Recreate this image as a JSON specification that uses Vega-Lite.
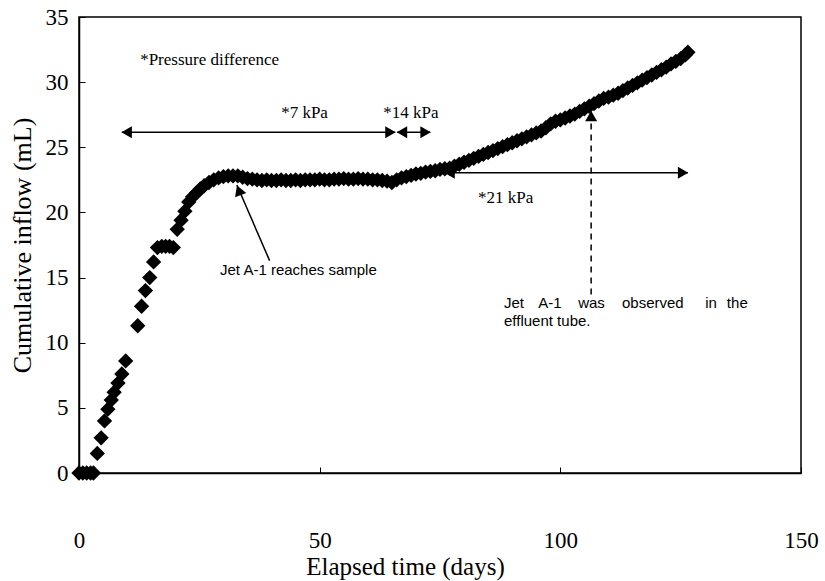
{
  "$schema": "https://vega.github.io/schema/vega-lite/v6.json",
  "width": 722,
  "height": 456,
  "autosize": {"type": "none"},
  "padding": {"left": 79, "top": 17, "right": 24, "bottom": 108},
  "background": "white",
  "config": {
    "view": {"stroke": "#000", "strokeWidth": 1.5},
    "font": "Liberation Serif"
  },
  "datasets": {
    "inflow": [
      {"day": 0, "ml": 0}, {"day": 0.8, "ml": 0}, {"day": 1.6, "ml": 0}, {"day": 2.4, "ml": 0}, {"day": 3.0, "ml": 0},
      {"day": 3.8, "ml": 1.5}, {"day": 4.6, "ml": 2.7}, {"day": 5.3, "ml": 4.0}, {"day": 6.0, "ml": 4.9},
      {"day": 6.7, "ml": 5.6}, {"day": 7.3, "ml": 6.2}, {"day": 8.1, "ml": 6.9}, {"day": 8.9, "ml": 7.6},
      {"day": 9.7, "ml": 8.6}, {"day": 12.2, "ml": 11.3}, {"day": 13.0, "ml": 12.8}, {"day": 13.8, "ml": 14.0},
      {"day": 14.7, "ml": 15.0}, {"day": 15.5, "ml": 16.2}, {"day": 16.3, "ml": 17.3}, {"day": 17.2, "ml": 17.4},
      {"day": 18.0, "ml": 17.4}, {"day": 18.8, "ml": 17.4}, {"day": 19.6, "ml": 17.3}, {"day": 20.4, "ml": 18.7},
      {"day": 21.2, "ml": 19.4}, {"day": 22.0, "ml": 20.1}, {"day": 22.8, "ml": 20.8}, {"day": 23.6, "ml": 21.2},
      {"day": 24.4, "ml": 21.5}, {"day": 25.2, "ml": 21.8}, {"day": 26.0, "ml": 22.05}, {"day": 27.0, "ml": 22.3},
      {"day": 28.0, "ml": 22.5}, {"day": 29.0, "ml": 22.65}, {"day": 30.0, "ml": 22.75}, {"day": 31.0, "ml": 22.8},
      {"day": 32.0, "ml": 22.8}, {"day": 33.0, "ml": 22.8}, {"day": 34.0, "ml": 22.7}, {"day": 35.0, "ml": 22.6},
      {"day": 36, "ml": 22.55}, {"day": 37, "ml": 22.5}, {"day": 38, "ml": 22.45}, {"day": 39, "ml": 22.5},
      {"day": 40, "ml": 22.45}, {"day": 41, "ml": 22.45}, {"day": 42, "ml": 22.5}, {"day": 43, "ml": 22.45},
      {"day": 44, "ml": 22.45}, {"day": 45, "ml": 22.5}, {"day": 46, "ml": 22.45}, {"day": 47, "ml": 22.5},
      {"day": 48, "ml": 22.5}, {"day": 49, "ml": 22.5}, {"day": 50, "ml": 22.55}, {"day": 51, "ml": 22.5},
      {"day": 52, "ml": 22.5}, {"day": 53, "ml": 22.55}, {"day": 54, "ml": 22.55}, {"day": 55, "ml": 22.6},
      {"day": 56, "ml": 22.55}, {"day": 57, "ml": 22.55}, {"day": 58, "ml": 22.6}, {"day": 59, "ml": 22.55},
      {"day": 60, "ml": 22.55}, {"day": 61, "ml": 22.5}, {"day": 62, "ml": 22.5}, {"day": 63, "ml": 22.45},
      {"day": 64, "ml": 22.4}, {"day": 65, "ml": 22.3}, {"day": 66, "ml": 22.5}, {"day": 67, "ml": 22.65},
      {"day": 68, "ml": 22.75}, {"day": 69, "ml": 22.85}, {"day": 70, "ml": 22.95}, {"day": 71, "ml": 23.0},
      {"day": 72, "ml": 23.1}, {"day": 73, "ml": 23.15}, {"day": 74, "ml": 23.2}, {"day": 75, "ml": 23.3},
      {"day": 76, "ml": 23.35}, {"day": 77, "ml": 23.4}, {"day": 78, "ml": 23.55}, {"day": 79, "ml": 23.7},
      {"day": 80, "ml": 23.85}, {"day": 81, "ml": 24.0}, {"day": 82, "ml": 24.15}, {"day": 83, "ml": 24.3},
      {"day": 84, "ml": 24.45}, {"day": 85, "ml": 24.6}, {"day": 86, "ml": 24.75}, {"day": 87, "ml": 24.9},
      {"day": 88, "ml": 25.05}, {"day": 89, "ml": 25.2}, {"day": 90, "ml": 25.35}, {"day": 91, "ml": 25.5},
      {"day": 92, "ml": 25.65}, {"day": 93, "ml": 25.8}, {"day": 94, "ml": 25.95}, {"day": 95, "ml": 26.1},
      {"day": 96, "ml": 26.25}, {"day": 97, "ml": 26.5}, {"day": 98, "ml": 26.8}, {"day": 99, "ml": 27.0},
      {"day": 100, "ml": 27.1}, {"day": 101, "ml": 27.25}, {"day": 102, "ml": 27.4}, {"day": 103, "ml": 27.55},
      {"day": 104, "ml": 27.75}, {"day": 105, "ml": 27.95}, {"day": 106, "ml": 28.15}, {"day": 107, "ml": 28.35},
      {"day": 108, "ml": 28.55}, {"day": 109, "ml": 28.75}, {"day": 110, "ml": 28.85}, {"day": 111, "ml": 29.0},
      {"day": 112, "ml": 29.15}, {"day": 113, "ml": 29.35}, {"day": 114, "ml": 29.55}, {"day": 115, "ml": 29.75},
      {"day": 116, "ml": 29.95}, {"day": 117, "ml": 30.15}, {"day": 118, "ml": 30.35}, {"day": 119, "ml": 30.55},
      {"day": 120, "ml": 30.75}, {"day": 121, "ml": 30.95}, {"day": 122, "ml": 31.15}, {"day": 123, "ml": 31.4},
      {"day": 124, "ml": 31.6}, {"day": 125, "ml": 31.8}, {"day": 126, "ml": 32.1}, {"day": 126.5, "ml": 32.3}
    ],
    "arrows": [
      {"day": 8.9, "day2": 65.7, "ml": 26.15, "ml2": 26.15},
      {"day": 66.1, "day2": 73.0, "ml": 26.15, "ml2": 26.15},
      {"day": 76.0, "day2": 126.5, "ml": 23.05, "ml2": 23.05},
      {"day": 32.8, "day2": 39.6, "ml": 22.1, "ml2": 16.3}
    ],
    "dashed": [
      {"day": 106.4, "day2": 106.4, "ml": 13.7, "ml2": 27.3}
    ],
    "heads": [
      {"day": 9.9, "ml": 26.15, "dir": "left"},
      {"day": 64.7, "ml": 26.15, "dir": "right"},
      {"day": 67.1, "ml": 26.15, "dir": "left"},
      {"day": 72.0, "ml": 26.15, "dir": "right"},
      {"day": 77.0, "ml": 23.05, "dir": "left"},
      {"day": 125.5, "ml": 23.05, "dir": "right"},
      {"day": 106.4, "ml": 27.4, "dir": "up"},
      {"day": 33.2, "ml": 21.7, "dir": "jet"}
    ],
    "serifText": [
      {"day": 12.7, "ml": 31.7, "txt": "*Pressure difference"},
      {"day": 42.0, "ml": 27.6, "txt": "*7 kPa"},
      {"day": 63.2, "ml": 27.6, "txt": "*14 kPa"},
      {"day": 82.9, "ml": 21.1, "txt": "*21 kPa"}
    ],
    "sansText": [
      {"day": 29.3, "ml": 15.55, "txt": "Jet A-1 reaches sample"},
      {"day": 88.3, "ml": 13.05, "txt": "Jet"},
      {"day": 95.4, "ml": 13.05, "txt": "A-1"},
      {"day": 103.7, "ml": 13.05, "txt": "was"},
      {"day": 112.8, "ml": 13.05, "txt": "observed"},
      {"day": 130.1, "ml": 13.05, "txt": "in"},
      {"day": 134.6, "ml": 13.05, "txt": "the"},
      {"day": 88.3, "ml": 11.65, "txt": "effluent tube."}
    ]
  },
  "encoding": {
    "x": {
      "field": "day", "type": "quantitative",
      "scale": {"domain": [0, 150], "nice": false},
      "axis": {
        "title": "Elapsed time (days)",
        "values": [0, 50, 100, 150],
        "grid": false,
        "domainColor": "#000", "domainWidth": 1.5,
        "tickColor": "#000", "tickSize": -6, "tickWidth": 1,
        "labelFont": "Liberation Serif", "labelFontSize": 23, "labelColor": "#000",
        "labelPadding": 62, "labelFlush": false, "labelOverlap": false,
        "titleFont": "Liberation Serif", "titleFontSize": 25, "titleFontWeight": "normal", "titleColor": "#000",
        "titleX": 326, "titleY": 93, "titleBaseline": "middle", "titleAlign": "center"
      }
    },
    "y": {
      "field": "ml", "type": "quantitative",
      "scale": {"domain": [0, 35], "nice": false},
      "axis": {
        "title": "Cumulative inflow (mL)",
        "values": [0, 5, 10, 15, 20, 25, 30, 35],
        "grid": false,
        "domainColor": "#000", "domainWidth": 1.5,
        "tickColor": "#000", "tickSize": -6, "tickWidth": 1,
        "labelFont": "Liberation Serif", "labelFontSize": 23, "labelColor": "#000",
        "labelPadding": 17, "labelFlush": false, "labelOverlap": false,
        "titleFont": "Liberation Serif", "titleFontSize": 26, "titleFontWeight": "normal", "titleColor": "#000",
        "titleX": -57, "titleY": 228, "titleAngle": -90, "titleBaseline": "middle", "titleAlign": "center"
      }
    }
  },
  "layer": [
    {
      "data": {"name": "arrows"},
      "mark": {"type": "rule", "color": "#000", "strokeWidth": 1.5},
      "encoding": {"x2": {"field": "day2"}, "y2": {"field": "ml2"}}
    },
    {
      "data": {"name": "dashed"},
      "mark": {"type": "rule", "color": "#000", "strokeWidth": 1.5, "strokeDash": [6, 5]},
      "encoding": {"x2": {"field": "day2"}, "y2": {"field": "ml2"}}
    },
    {
      "data": {"name": "heads"},
      "transform": [{"filter": "datum.dir === 'left'"}],
      "mark": {"type": "point", "shape": "triangle-left", "filled": true, "color": "#000", "opacity": 1, "size": 144}
    },
    {
      "data": {"name": "heads"},
      "transform": [{"filter": "datum.dir === 'right'"}],
      "mark": {"type": "point", "shape": "triangle-right", "filled": true, "color": "#000", "opacity": 1, "size": 144}
    },
    {
      "data": {"name": "heads"},
      "transform": [{"filter": "datum.dir === 'up'"}],
      "mark": {"type": "point", "shape": "triangle-up", "filled": true, "color": "#000", "opacity": 1, "size": 144}
    },
    {
      "data": {"name": "heads"},
      "transform": [{"filter": "datum.dir === 'jet'"}],
      "mark": {"type": "point", "shape": "triangle-up", "filled": true, "color": "#000", "opacity": 1, "size": 144, "angle": 339}
    },
    {
      "data": {"name": "inflow"},
      "mark": {"type": "point", "shape": "diamond", "filled": true, "color": "#000", "opacity": 1, "size": 235}
    },
    {
      "data": {"name": "serifText"},
      "mark": {"type": "text", "font": "Liberation Serif", "fontSize": 17, "align": "left", "baseline": "middle", "color": "#000"},
      "encoding": {"text": {"field": "txt"}}
    },
    {
      "data": {"name": "sansText"},
      "mark": {"type": "text", "font": "Liberation Sans", "fontSize": 15, "align": "left", "baseline": "middle", "color": "#000"},
      "encoding": {"text": {"field": "txt"}}
    }
  ]
}
